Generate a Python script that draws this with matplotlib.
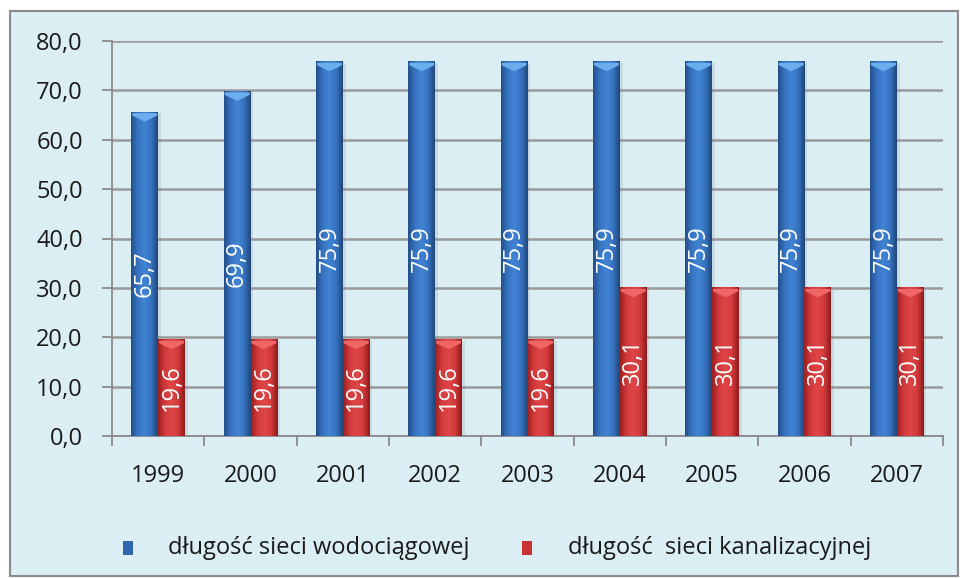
import numpy as np
import matplotlib
matplotlib.use("Agg")
import matplotlib.pyplot as plt
from matplotlib.colors import LinearSegmentedColormap
from matplotlib.patches import Rectangle, Polygon
from matplotlib.ticker import FuncFormatter, MultipleLocator

# dane
lata = ["1999", "2000", "2001", "2002", "2003", "2004", "2005", "2006", "2007"]
wodociag = [65.7, 69.9, 75.9, 75.9, 75.9, 75.9, 75.9, 75.9, 75.9]
kanalizacja = [19.6, 19.6, 19.6, 19.6, 19.6, 30.1, 30.1, 30.1, 30.1]
etykiety_legendy = ["długość sieci wodociągowej", "długość  sieci kanalizacyjnej"]

TLO = "#dbeef4"
plt.rcParams["font.family"] = ["Open Sans", "DejaVu Sans"]

fig = plt.figure(figsize=(9.6, 5.78), dpi=100)
fig.patch.set_facecolor("white")
# ramka wykresu
fig.patches.append(Rectangle((10 / 960, 2 / 578), 948 / 960, 565 / 578,
                             transform=fig.transFigure, facecolor=TLO,
                             edgecolor="#8a8a8a", linewidth=1.5, zorder=-10))

ax = fig.add_axes([112 / 960, 1 - 436 / 578, 831 / 960, 395 / 578])
ax.set_facecolor("none")
ax.set_zorder(1)

cm_blue = LinearSegmentedColormap.from_list("b", ["#234f8a", "#3774c2", "#4184d4", "#3774c2", "#1f4678"])
cm_red = LinearSegmentedColormap.from_list("r", ["#9c1f22", "#d23a3b", "#de4546", "#d23a3b", "#8e1b1d"])

x = np.arange(len(lata))
w = 0.29
grad = np.linspace(0, 1, 64).reshape(1, -1)
px = 80 / 395  # jednostki danych na piksel w pionie


def rysuj(xs, vals, cmap, hi):
    bars = ax.bar(xs, vals, width=w, color="none", zorder=3)
    for b, v in zip(bars, vals):
        x0 = b.get_x()
        # cien
        ax.add_patch(Rectangle((x0 + 0.03, 0), w, v - 1.5 * px, facecolor="#7a8a90",
                               alpha=0.2, edgecolor="none", zorder=2))
        im = ax.imshow(grad, cmap=cmap, extent=[x0, x0 + w, 0, v], aspect="auto", zorder=3)
        im.set_clip_path(b)
        # jasny szczyt
        ax.add_patch(Polygon([[x0 + 0.01, v - 1.5 * px], [x0 + w - 0.01, v - 1.5 * px],
                              [x0 + w - 0.01, v - 4 * px], [x0 + w / 2, v - 10 * px],
                              [x0 + 0.01, v - 4 * px]],
                             closed=True, facecolor=hi, edgecolor="none", zorder=4))
        ax.text(x0 + w / 2, v / 2, f"{v:.1f}".replace(".", ","), rotation=90,
                ha="center", va="center", color="white", fontsize=17, zorder=5)


rysuj(x - w / 2, wodociag, cm_blue, "#6aaeee")
rysuj(x + w / 2, kanalizacja, cm_red, "#ee6666")

ax.set_xlim(-0.5, len(lata) - 0.5)
ax.set_ylim(0, 80)
ax.yaxis.set_major_locator(MultipleLocator(10))
ax.yaxis.set_major_formatter(FuncFormatter(lambda v, p: f"{v:.1f}".replace(".", ",")))
ax.grid(axis="y", color="#9a9a9a", linewidth=1.8, zorder=1)
ax.set_axisbelow(True)

ax.set_xticks(x)
ax.set_xticklabels(lata)
ax.set_xticks(np.arange(len(lata) + 1) - 0.5, minor=True)
ax.tick_params(axis="x", which="major", length=0, pad=20, labelsize=17, colors="#1a1a1a")
ax.tick_params(axis="x", which="minor", length=7, width=1.3, color="#8a8a8a")
ax.tick_params(axis="y", length=7, width=1.3, color="#8a8a8a", pad=14, labelsize=17,
               labelcolor="#1a1a1a")

for s in ["top", "right"]:
    ax.spines[s].set_visible(False)
ax.spines["left"].set_color("#8a8a8a")
ax.spines["bottom"].set_color("#8a8a8a")
ax.spines["left"].set_linewidth(1.3)
ax.spines["bottom"].set_linewidth(1.3)

# legenda
ly = 1 - 548 / 578
for mx, tx, kol, txt in [(123, 168, "#2f66ad", etykiety_legendy[0]),
                         (522, 568, "#c83233", etykiety_legendy[1])]:
    fig.patches.append(Rectangle((mx / 960, ly - 7 / 578), 10 / 960, 14 / 578,
                                 transform=fig.transFigure, facecolor=kol,
                                 edgecolor="none", zorder=3))
    fig.text(tx / 960, ly, txt, ha="left", va="center", fontsize=17, color="#1a1a1a")

fig.savefig("out.png", dpi=100, facecolor=fig.get_facecolor())
